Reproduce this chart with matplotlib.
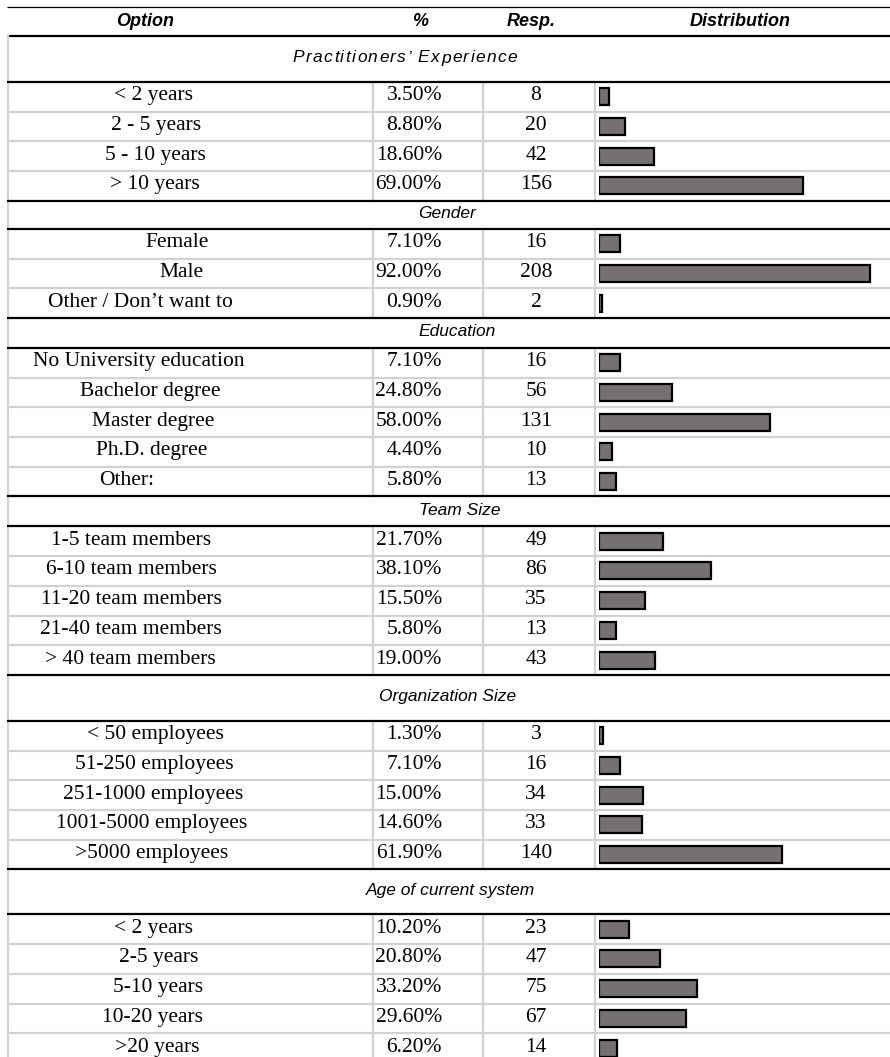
import matplotlib
matplotlib.use("Agg")
import matplotlib.pyplot as plt
from matplotlib.font_manager import FontProperties

# ---------------- data ----------------
headers = ["Option", "%", "Resp.", "Distribution"]

sections = ["Practitioners\u2019 Experience", "Gender", "Education", "Team Size",
            "Organization Size", "Age of current system"]

exp_labels = ["< 2 years", "2 - 5 years", "5 - 10 years", "> 10 years"]
exp_pct = [3.5, 8.8, 18.6, 69.0]
exp_resp = [8, 20, 42, 156]

gender_labels = ["Female", "Male", "Other / Don\u2019t want to"]
gender_pct = [7.1, 92.0, 0.9]
gender_resp = [16, 208, 2]

edu_labels = ["No University education", "Bachelor degree", "Master degree",
              "Ph.D. degree", "Other:"]
edu_pct = [7.1, 24.8, 58.0, 4.4, 5.8]
edu_resp = [16, 56, 131, 10, 13]

team_labels = ["1-5 team members", "6-10 team members", "11-20 team members",
               "21-40 team members", "> 40 team members"]
team_pct = [21.7, 38.1, 15.5, 5.8, 19.0]
team_resp = [49, 86, 35, 13, 43]

org_labels = ["< 50 employees", "51-250 employees", "251-1000 employees",
              "1001-5000 employees", ">5000 employees"]
org_pct = [1.3, 7.1, 15.0, 14.6, 61.9]
org_resp = [3, 16, 34, 33, 140]

age_labels = ["< 2 years", "2-5 years", "5-10 years", "10-20 years", ">20 years"]
age_pct = [10.2, 20.8, 33.2, 29.6, 6.2]
age_resp = [23, 47, 75, 67, 14]

groups = [
    (exp_labels, exp_pct, exp_resp),
    (gender_labels, gender_pct, gender_resp),
    (edu_labels, edu_pct, edu_resp),
    (team_labels, team_pct, team_resp),
    (org_labels, org_pct, org_resp),
    (age_labels, age_pct, age_resp),
]

# ---------------- layout (pixels) ----------------
W, H = 890, 1057
sec_heights = [46, 28, 30, 30, 46, 45]
sec_text_x = [405, 447, 457, 460, 448, 450]
sec_tracking = [1.4, 0, 0, 0, 0, 0]
label_cx = [
    [154, 156, 155, 155],
    [177, 181, 140],
    [139, 150, 153, 152, 127],
    [131, 131, 131, 131, 130],
    [155, 154, 153, 152, 152],
    [154, 159, 158, 153, 157],
]
ROW_H = 29.7
TOP = 7
HEAD_H = 29
X_LEFT = 8
X_C1, X_C2, X_C3 = 373, 483, 595
BAR_X0 = 599
BAR_SCALE = 2.95          # pixels per percent
GRAY = "#d2d2d2"
BAR_FC = "#757170"

fig = plt.figure(figsize=(W / 100, H / 100), dpi=100)
ax = fig.add_axes([0, 0, 1, 1])
ax.set_xlim(0, W)
ax.set_ylim(H, 0)
ax.axis("off")

# bar axes: x in percent
bx = fig.add_axes([BAR_X0 / W, 0, 100 * BAR_SCALE / W, 1])
bx.set_xlim(0, 100)
bx.set_ylim(H, 0)
bx.axis("off")

serif = "Liberation Serif"
sans = "Liberation Sans"
FS = 15.5
renderer = fig.canvas.get_renderer()


def tracked_text(xc, yc, s, track, size, style, family):
    """Draw text centred at xc with extra letter spacing (pixels)."""
    if track == 0:
        ax.text(xc, yc, s, ha="center", va="center", fontsize=size,
                fontstyle=style, family=family)
        return
    fp = FontProperties(family=family, style=style, size=size)

    def adv(t):
        if not t:
            return 0.0
        w, _, _ = renderer.get_text_width_height_descent(t + "|", fp, ismath=False)
        w0, _, _ = renderer.get_text_width_height_descent("|", fp, ismath=False)
        return w - w0

    total = adv(s) + track * (len(s) - 1)
    x0 = xc - total / 2
    for i, ch in enumerate(s):
        if ch == " ":
            continue
        ax.text(x0 + adv(s[:i]) + track * i, yc, ch, ha="left", va="center",
                fontproperties=fp)


# header row
ax.plot([7, W], [TOP, TOP], color="black", lw=0.9, solid_capstyle="butt")
hy = TOP + HEAD_H / 2 + 0.5
head_x = [145, 420, 531, 740]
for hx, h in zip(head_x, headers):
    ax.text(hx, hy, h, ha="center", va="center", fontsize=13,
            fontweight="bold", fontstyle="italic", family=sans)

y = TOP + HEAD_H
ax.plot([7, W], [y, y], color="black", lw=1.6, solid_capstyle="butt")

for si, (sec, (labels, pcts, resps)) in enumerate(zip(sections, groups)):
    sh = sec_heights[si]
    # section header
    ax.plot([X_LEFT, X_LEFT], [y, y + sh], color=GRAY, lw=1.6)
    tracked_text(sec_text_x[si], y + sh / 2 - 1, sec, sec_tracking[si],
                 12.5, "italic", sans)
    y += sh
    ax.plot([7, W], [y, y], color="black", lw=1.6, solid_capstyle="butt", zorder=3)
    y0 = y
    n = len(labels)
    ys = []
    for i in range(n):
        yc = y + ROW_H / 2
        ys.append(yc)
        ax.text(label_cx[si][i], yc - 1, labels[i], ha="center", va="center",
                fontsize=FS, family=serif)
        ax.text(442, yc - 1, f"{pcts[i]:.2f}%", ha="right", va="center",
                fontsize=FS, family=serif)
        ax.text(536, yc - 1, str(resps[i]), ha="center", va="center",
                fontsize=FS, family=serif)
        y += ROW_H
        if i < n - 1:
            ax.plot([X_LEFT, W], [y, y], color=GRAY, lw=1.6, solid_capstyle="butt")
    # vertical separators within data block
    for xv in (X_LEFT, X_C1, X_C2, X_C3):
        ax.plot([xv, xv], [y0, y], color=GRAY, lw=1.6, zorder=1)
    bx.barh(ys, pcts, height=17, left=0, color=BAR_FC, edgecolor="black",
            linewidth=1.6)
    if si < len(sections) - 1:
        ax.plot([7, W], [y, y], color="black", lw=1.6, solid_capstyle="butt", zorder=3)

fig.savefig("out.png", dpi=100)
